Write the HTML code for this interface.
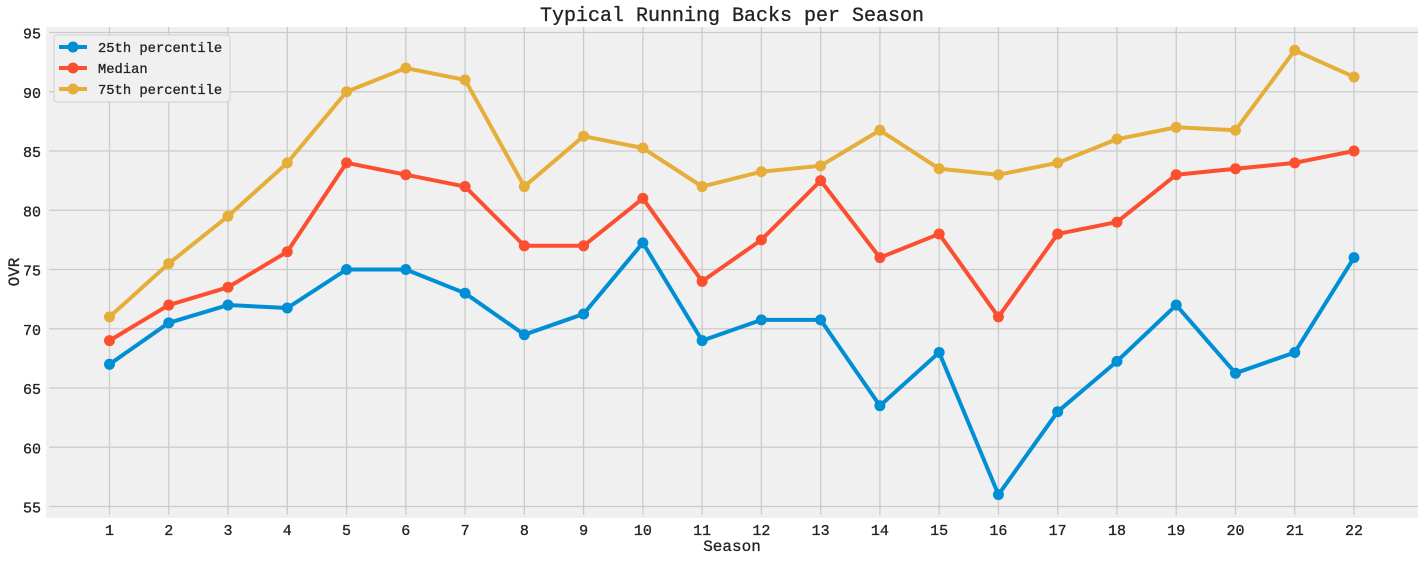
<!DOCTYPE html>
<html><head><meta charset="utf-8"><style>
body{margin:0;background:#fff;}
svg text{font-family:"Liberation Mono","DejaVu Sans Mono",monospace;fill:#222;stroke:#222;stroke-width:0.3;paint-order:stroke;}
</style></head><body>
<svg id="chart" width="1424" height="560" xmlns="http://www.w3.org/2000/svg">
<rect x="46" y="27" width="1372" height="491" fill="#f0f0f0"/>
<g id="grid"></g>
<g id="series"></g>
<text x="732" y="21" font-size="20" text-anchor="middle">Typical Running Backs per Season</text>
<text x="732" y="551" font-size="16" text-anchor="middle">Season</text>
<text x="19" y="272" font-size="16" text-anchor="middle" transform="rotate(-90 19 272)">OVR</text>
<g>
<rect x="54" y="35" width="176" height="67" fill="#f0f0f0" stroke="#d0d0d0" rx="3"/>
<g id="legend"></g>
</g>
</svg>
<script>
const seasons=[1,2,3,4,5,6,7,8,9,10,11,12,13,14,15,16,17,18,19,20,21,22];
const p25=[67,70.5,72,71.75,75,75,73,69.5,71.25,77.25,69,70.75,70.75,63.5,68,56,63,67.25,72,66.25,68,76];
const median=[69,72,73.5,76.5,84,83,82,77,77,81,74,77.5,82.5,76,78,71,78,79,83,83.5,84,85];
const p75=[71,75.5,79.5,84,90,92,91,82,86.25,85.25,82,83.25,83.75,86.75,83.5,83,84,86,87,86.75,93.5,91.25];
const yTicks=[55,60,65,70,75,80,85,90,95];
const seriesNames=["25th percentile","Median","75th percentile"];
const colors=["#008fd5","#fc4f30","#e5ae38"];
const NS="http://www.w3.org/2000/svg";
function xs(v){return 109.5+(v-1)*(1354-109.5)/21;}
function ys(v){return 506.5-(v-55)*(506.5-32.5)/40;}
function mk(t,a,p){const e=document.createElementNS(NS,t);for(const k in a)e.setAttribute(k,a[k]);p.appendChild(e);return e;}
const grid=document.getElementById('grid');
yTicks.forEach(v=>{
  const l=mk('line',{x1:49,x2:1418,y1:ys(v),y2:ys(v),stroke:'#cbcbcb','stroke-width':1.3},grid);
  
  
  const t=mk('text',{x:41,y:ys(v)+6,'font-size':15,'text-anchor':'end'},grid);
  t.textContent=v;
  
  
});
seasons.forEach(v=>{
  const l=mk('line',{x1:xs(v),x2:xs(v),y1:27,y2:515,stroke:'#cbcbcb','stroke-width':1.3},grid);
  
  
  const t=mk('text',{x:xs(v),y:535,'font-size':15,'text-anchor':'middle'},grid);
  t.textContent=v;
  
  
});
const sg=document.getElementById('series');
[p25,median,p75].forEach((arr,i)=>{
  const g=mk('g',{},sg);
  
  
  const pl=mk('polyline',{points:arr.map((v,j)=>xs(seasons[j])+','+ys(v)).join(' '),fill:'none',stroke:colors[i],'stroke-width':4,'stroke-linejoin':'round'},g);
  
  
  arr.forEach((v,j)=>{
    const c=mk('circle',{cx:xs(seasons[j]),cy:ys(v),r:5.5,fill:colors[i]},g);
    
    
  });
});
const lg=document.getElementById('legend');
seriesNames.forEach((n,i)=>{
  const y=47+i*21;
  const g=mk('g',{},lg);
  
  
  mk('line',{x1:59,x2:87,y1:y,y2:y,stroke:colors[i],'stroke-width':4},g);
  mk('circle',{cx:73,cy:y,r:5.5,fill:colors[i]},g);
  const t=mk('text',{x:98,y:y+5,'font-size':13.8},g);
  t.textContent=n;
});
</script>
</body></html>
